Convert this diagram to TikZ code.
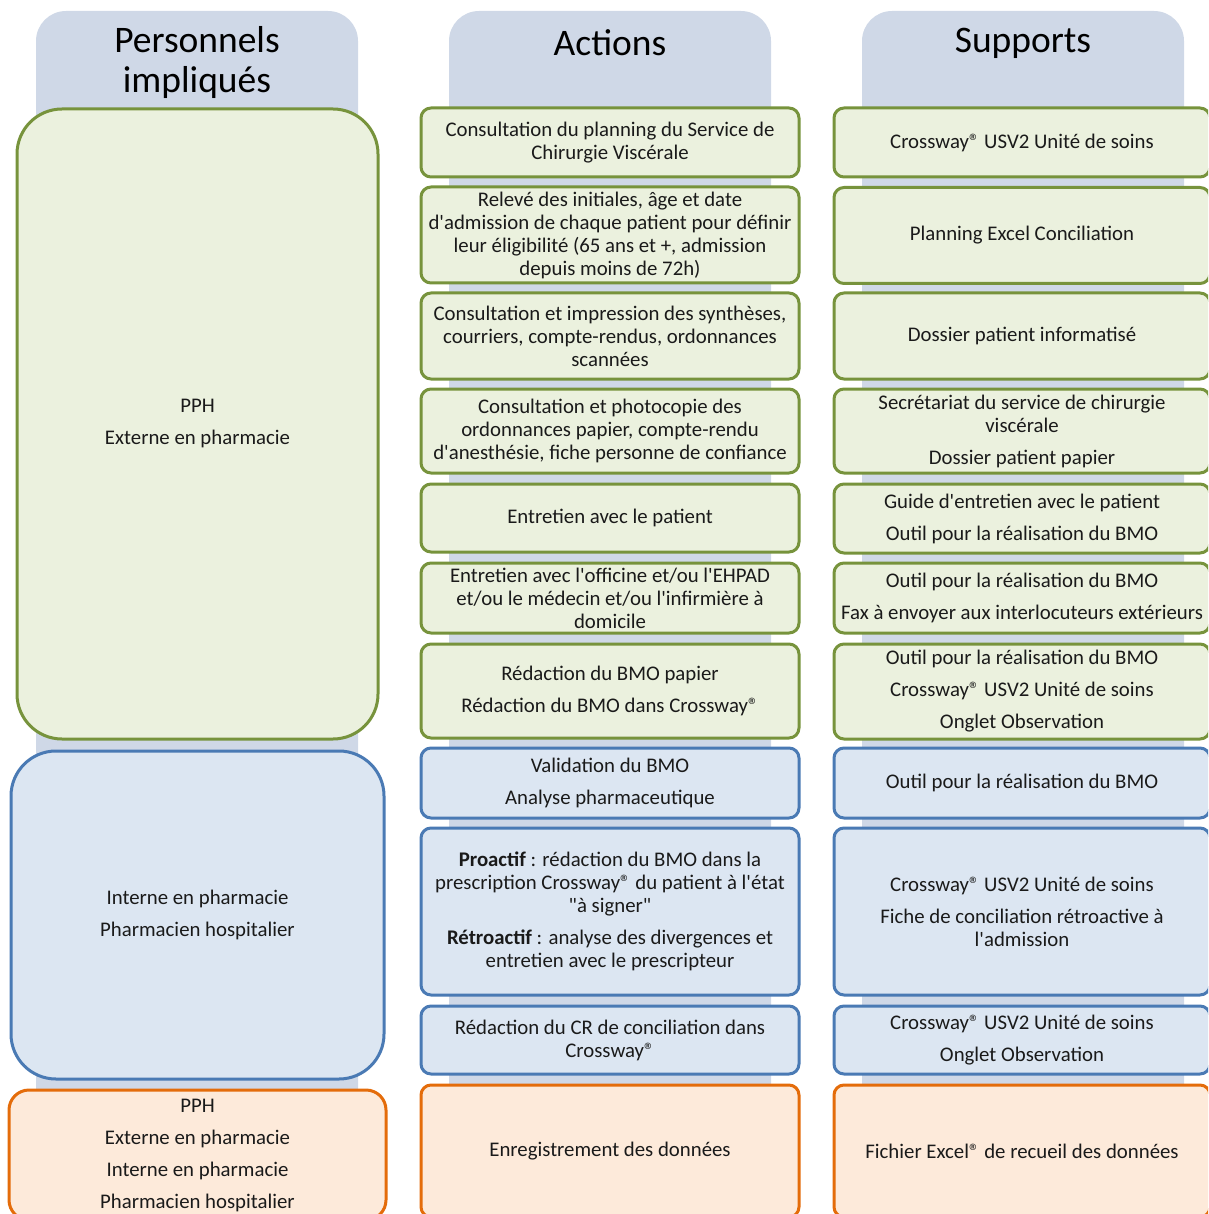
\documentclass[tikz,border=0pt]{standalone}
\usepackage{fontspec}
\setmainfont{Carlito}[Ligatures=TeXOff]
\definecolor{tabc}{HTML}{CFD8E7}
\definecolor{grnD}{HTML}{77933C}
\definecolor{grnL}{HTML}{EBF1DE}
\definecolor{bluD}{HTML}{4A7AB4}
\definecolor{bluL}{HTML}{DCE6F2}
\definecolor{orgD}{HTML}{E46C0A}
\definecolor{orgL}{HTML}{FDEADA}
\definecolor{txt}{HTML}{1A1A1A}
\newcommand\fs{\fontsize{20.8}{23}\selectfont}
\newcommand\hs{\fontsize{37.5}{40}\selectfont}
\newcommand\reg{®}
\tikzset{
  basebox/.style={rectangle, rounded corners=10pt, line width=3pt, align=center, font=\fs, text=txt, inner sep=0pt},
  gbox/.style={basebox, draw=grnD, fill=grnL},
  bbox/.style={basebox, draw=bluD, fill=bluL},
  obox/.style={basebox, draw=orgD, fill=orgL},
  mid/.style={minimum width=378pt},
  rgt/.style={minimum width=376pt},
  head/.style={align=center, font=\hs, text=black, inner sep=0pt},
  tabfill/.style={fill=tabc, rounded corners=30pt}
}
\begin{document}
\begin{tikzpicture}[x=1pt,y=-1pt]
\useasboundingbox (0,0) rectangle (1208,1214);
\clip (0,0) rectangle (1208,1214);
% header tabs
\fill[tabfill] (36,1260) -- (36,11) -- (358,11) -- (358,1260) -- cycle;
\fill[tabfill] (449,1260) -- (449,11) -- (771,11) -- (771,1260) -- cycle;
\fill[tabfill] (862,1260) -- (862,11) -- (1184,11) -- (1184,1260) -- cycle;
\node[head] (h1) at (197,63) {Personnels\\impliqués};
\node[head] (h2) at (610,43) {Actions};
\node[head] (h3) at (1023,43) {Supports};
% left column
\node[gbox, rounded corners=45pt, minimum width=361pt, minimum height=630pt] (l1) at (197.5,424) {PPH\\[9pt]Externe en pharmacie};
\node[bbox, rounded corners=45pt, minimum width=373pt, minimum height=328pt] (l2) at (197.5,915) {Interne en pharmacie\\[9pt]Pharmacien hospitalier};
\node[obox, rounded corners=20pt, minimum width=377pt, minimum height=130pt] (l3) at (197.5,1155) {PPH\\[9pt]Externe en pharmacie\\[9pt]Interne en pharmacie\\[9pt]Pharmacien hospitalier};
% middle column
\node[gbox, mid, minimum height=69pt] (m1) at (610,142.5) {Consultation du planning du Service de\\Chirurgie Viscérale};
\node[gbox, mid, minimum height=96pt] (m2) at (610,235) {Relevé des initiales, âge et date\\d'admission de chaque patient pour définir\\leur éligibilité (65 ans et +, admission\\depuis moins de 72h)};
\node[gbox, mid, minimum height=86pt] (m3) at (610,336) {Consultation et impression des synthèses,\\courriers, compte-rendus, ordonnances\\scannées};
\node[gbox, mid, minimum height=84pt] (m4) at (610,431) {Consultation et photocopie des\\ordonnances papier, compte-rendu\\d'anesthésie, fiche personne de confiance};
\node[gbox, mid, minimum height=68pt] (m5) at (610,518) {Entretien avec le patient};
\node[gbox, mid, minimum height=70pt] (m6) at (610,598) {Entretien avec l'officine et/ou l'EHPAD\\et/ou le médecin et/ou l'infirmière à\\domicile};
\node[gbox, mid, minimum height=94pt] (m7) at (610,691) {Rédaction du BMO papier\\[9pt]Rédaction du BMO dans Crossway\reg};
\node[bbox, mid, minimum height=70pt] (m8) at (610,783) {Validation du BMO\\[9pt]Analyse pharmaceutique};
\node[bbox, mid, minimum height=167pt] (m9) at (610,911.5) {\textbf{Proactif} : rédaction du BMO dans la\\prescription Crossway\reg{}  du patient à l'état\\"à signer"\\[9pt]\textbf{Rétroactif} : analyse des divergences et\\entretien avec le prescripteur};
\node[bbox, mid, minimum height=68pt] (m10) at (610,1040) {Rédaction du CR de conciliation dans\\Crossway\reg};
\node[obox, mid, minimum height=132pt] (m11) at (610,1151) {Enregistrement des données};
% right column
\node[gbox, rgt, minimum height=69pt] (r1) at (1022,142.5) {Crossway\reg{} USV2 Unité de soins};
\node[gbox, rgt, minimum height=96pt] (r2) at (1022,235.5) {Planning Excel Conciliation};
\node[gbox, rgt, minimum height=86pt] (r3) at (1022,336) {Dossier patient informatisé};
\node[gbox, rgt, minimum height=84pt] (r4) at (1022,431) {Secrétariat du service de chirurgie\\viscérale\\[9pt]Dossier patient papier};
\node[gbox, rgt, minimum height=69pt] (r5) at (1022,518.5) {Guide d'entretien avec le patient\\[9pt]Outil pour la réalisation du BMO};
\node[gbox, rgt, minimum height=70pt] (r6) at (1022,598) {Outil pour la réalisation du BMO\\[9pt]Fax à envoyer aux interlocuteurs extérieurs};
\node[gbox, rgt, minimum height=95pt] (r7) at (1022,691.5) {Outil pour la réalisation du BMO\\[9pt]Crossway\reg{}  USV2 Unité de soins\\[9pt]Onglet Observation};
\node[bbox, rgt, minimum height=70pt] (r8) at (1022,783) {Outil pour la réalisation du BMO};
\node[bbox, rgt, minimum height=167pt] (r9) at (1022,911.5) {Crossway\reg{} USV2 Unité de soins\\[9pt]Fiche de conciliation rétroactive à\\l'admission};
\node[bbox, rgt, minimum height=68pt] (r10) at (1022,1040) {Crossway\reg{} USV2 Unité de soins\\[9pt]Onglet Observation};
\node[obox, rgt, minimum height=132pt] (r11) at (1022,1151) {Fichier Excel\reg{} de recueil des données};
\end{tikzpicture}
\end{document}
